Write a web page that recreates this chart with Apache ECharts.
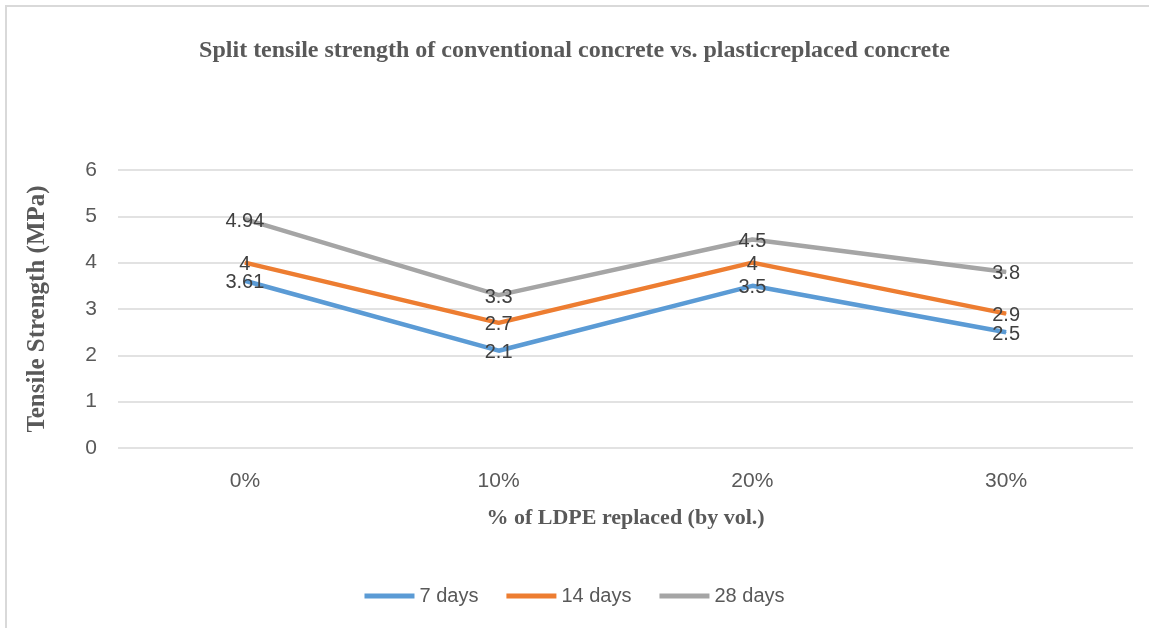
<!DOCTYPE html>
<html>
<head>
<meta charset="utf-8">
<style>
  html, body { margin: 0; padding: 0; background: #fff; }
  #chart { width: 1149px; height: 628px; }
</style>
<script src="https://cdn.jsdelivr.net/npm/echarts@6/dist/echarts.min.js"></script>
</head>
<body>
<div id="chart"></div>
<script>
// Split tensile strength (MPa) at each LDPE replacement level
const categories = ['0%', '10%', '20%', '30%'];
const days7 = [3.61, 2.1, 3.5, 2.5];
const days14 = [4, 2.7, 4, 2.9];
const days28 = [4.94, 3.3, 4.5, 3.8];
const seriesNames = ['7 days', '14 days', '28 days'];
const seriesColors = ['#5B9BD5', '#ED7D31', '#A5A5A5'];

const chart = echarts.init(document.getElementById('chart'), null, { renderer: 'canvas' });

const sansFont = 'Liberation Sans, Arial, sans-serif';
const serifFont = 'Liberation Serif, Times New Roman, serif';

function lineSeries(name, data, color) {
  return {
    name: name,
    type: 'line',
    data: data,
    symbol: 'circle',
    symbolSize: 1,
    showSymbol: true,
    lineStyle: { color: color, width: 4.5 },
    itemStyle: { color: color },
    label: {
      show: true,
      position: 'inside',
      offset: [0, 2],
      fontFamily: sansFont,
      fontSize: 20,
      color: '#404040'
    },
    emphasis: { disabled: true },
    animation: false
  };
}

chart.setOption({
  backgroundColor: '#ffffff',
  animation: false,
  graphic: [{
    type: 'rect',
    shape: { x: 6, y: 6, width: 1400, height: 800 },
    style: { fill: 'none', stroke: '#d9d9d9', lineWidth: 2 },
    silent: true
  }],
  title: {
    text: 'Split tensile strength of conventional concrete vs. plasticreplaced concrete',
    left: 'center',
    top: 34,
    textStyle: {
      fontFamily: serifFont,
      fontWeight: 'bold',
      fontSize: 24,
      color: '#595959'
    }
  },
  legend: {
    bottom: 17,
    left: 'center',
    itemWidth: 50,
    itemHeight: 5,
    itemGap: 28,
    icon: 'rect',
    textStyle: {
      fontFamily: sansFont,
      fontSize: 20,
      color: '#595959'
    },
    data: seriesNames
  },
  grid: {
    left: 118,
    right: 16,
    top: 170,
    bottom: 180,
    containLabel: false
  },
  xAxis: {
    type: 'category',
    data: categories,
    boundaryGap: true,
    name: '% of LDPE replaced (by vol.)',
    nameLocation: 'middle',
    nameGap: 59,
    nameTextStyle: {
      fontFamily: serifFont,
      fontWeight: 'bold',
      fontSize: 22,
      color: '#595959'
    },
    axisLine: { show: false },
    axisTick: { show: false },
    axisLabel: {
      margin: 23,
      fontFamily: sansFont,
      fontSize: 21,
      color: '#595959'
    }
  },
  yAxis: {
    type: 'value',
    min: 0,
    max: 6,
    interval: 1,
    name: 'Tensile Strength (MPa)',
    nameLocation: 'middle',
    nameGap: 68,
    nameTextStyle: {
      fontFamily: serifFont,
      fontWeight: 'bold',
      fontSize: 25,
      color: '#595959'
    },
    axisLine: { show: false },
    axisTick: { show: false },
    axisLabel: {
      margin: 21,
      fontFamily: sansFont,
      fontSize: 21,
      color: '#595959'
    },
    splitLine: { lineStyle: { color: '#d9d9d9', width: 1.5 } }
  },
  series: [
    lineSeries(seriesNames[0], days7, seriesColors[0]),
    lineSeries(seriesNames[1], days14, seriesColors[1]),
    lineSeries(seriesNames[2], days28, seriesColors[2])
  ]
});
</script>
</body>
</html>
